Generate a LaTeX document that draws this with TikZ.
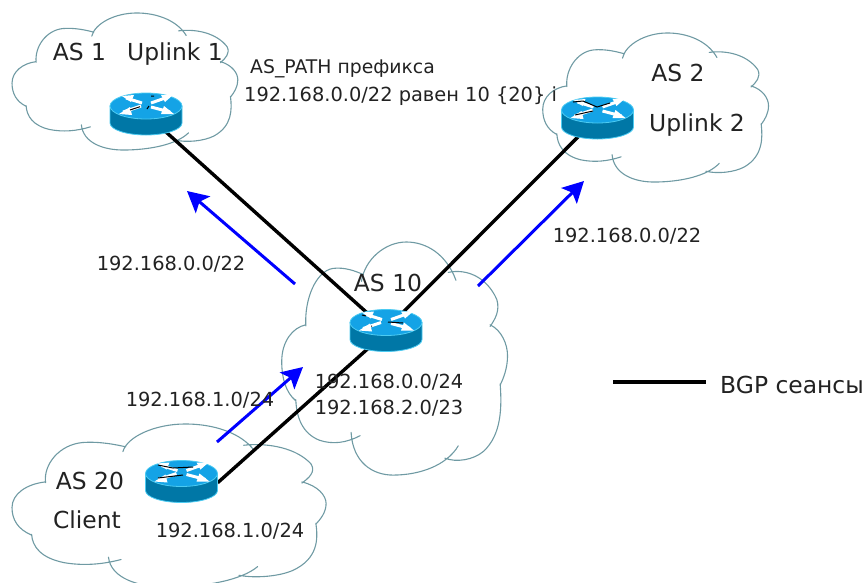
\documentclass[tikz,border=0pt]{standalone}
\usepackage{fontspec}
\setmainfont{DejaVu Sans}
\usetikzlibrary{shapes.geometric,arrows.meta}
\definecolor{cloudc}{HTML}{6F9AA3}
\definecolor{rtop}{HTML}{14A3E6}
\definecolor{rbody}{HTML}{0077A6}
\definecolor{redge}{HTML}{4CCBF2}
\definecolor{txt}{HTML}{222222}
\newcommand{\cloudat}[4]{%
  \path[cloudline,line cap=round,shift={(#1,#2)},xscale=#3,yscale=#4]
      (276,108) .. controls (285,70) and (345,38) .. (410,38) .. controls (470,38) and (530,60) .. (558,106)
      (535,92) .. controls (590,85) and (650,100) .. (680,140) .. controls (690,160) and (675,175) .. (660,188)
      (660,185) .. controls (695,195) and (712,220) .. (712,240) .. controls (712,262) and (700,280) .. (690,292)
      (690,290) .. controls (695,330) and (695,380) .. (640,410) .. controls (610,425) and (560,430) .. (525,422)
      (565,400) .. controls (530,435) and (450,452) .. (370,452) .. controls (310,452) and (250,430) .. (245,376)
      (272,382) .. controls (230,395) and (190,398) .. (150,390) .. controls (100,378) and (82,350) .. (80,318)
      (80,320) .. controls (50,305) and (38,280) .. (38,250) .. controls (38,215) and (70,190) .. (110,185)
      (110,187) .. controls (105,140) and (140,90) .. (190,85) .. controls (225,82) and (260,90) .. (282,96);}
\tikzset{
  cloudline/.style={draw=cloudc,line width=1.1pt},
  routeranchor/.style={ellipse,minimum width=72pt,minimum height=42pt,inner sep=0pt},
  bgpline/.style={black,line width=3.4pt},
  advert/.style={blue,line width=3pt,-{Stealth[length=21pt,width=22pt,inset=4.5pt]}},
  fleck/.style={black,line width=1pt},
  small/.style={font=\fontsize{19.4}{22}\selectfont,text=txt,inner sep=0pt},
  big/.style={font=\fontsize{23.4}{26}\selectfont,text=txt,inner sep=0pt},
  routershape/.pic={
    \path[fill=rbody,draw=redge,line width=0.8pt]
      (-36,-8) -- (-36,9) arc[start angle=180,end angle=360,x radius=36,y radius=-12] -- (36,-8) -- cycle;
    \path[fill=rtop,draw=redge,line width=0.8pt]
      (0,-8) ellipse[x radius=36,y radius=13];
    \draw[white,line width=3pt] (-23,-2) -- (-5,-8) (5,-11) -- (22,-17);
    \draw[white,line width=3pt] (-20,-16) -- (-4,-11) (5,-7) -- (24,-2);
    \fill[white] (-27,0) -- (-16,-7) -- (-14,1) -- cycle;
    \fill[white] (27,-19) -- (15,-19) -- (19,-12) -- cycle;
    \fill[white] (-24,-18) -- (-12,-19) -- (-15,-12) -- cycle;
    \fill[white] (28,0) -- (15,0) -- (18,-8) -- cycle;
  }
}
\begin{document}
\begin{tikzpicture}[x=1pt,y=-1pt]
\clip (0,0) rectangle (866,582);
% clouds
\cloudat{-0.7}{0.4}{0.335}{0.331}
\cloudat{530}{19.3}{0.335}{0.36}
\cloudat{269}{220.6}{0.335}{0.563}
\cloudat{-5.7}{409}{0.466}{0.394}
% routers: anchors
\node[routeranchor] (r1) at (146,114) {};
\node[routeranchor] (r2) at (597.5,118) {};
\node[routeranchor] (r10) at (386,330.5) {};
\node[routeranchor] (r20) at (181.5,481.5) {};
% BGP sessions
\draw[bgpline] (r1.-42) -- (r10.137);
\draw[bgpline] (r2.-136) -- (r10.47);
\draw[bgpline] (r10.225) -- (r20.-2);
% advertisements
\coordinate (a1s) at (295,284); \coordinate (a1e) at (187,191);
\coordinate (a2s) at (478,286); \coordinate (a2e) at (584,181);
\coordinate (a3s) at (217,442); \coordinate (a3e) at (303,367);
\draw[advert] (a1s) -- (a1e);
\draw[advert] (a2s) -- (a2e);
\draw[advert] (a3s) -- (a3e);
% router drawings
\pic at (r1) {routershape};
\pic at (r2) {routershape};
\pic at (r10) {routershape};
\pic at (r20) {routershape};
\draw[fleck] (130,110) -- (140,106.7) (147,109) -- (149,106) (151,96) -- (154,96);
\draw[fleck] (573,102) -- (583,101) -- (597,107) -- (610,103) (575,115) -- (593,111);
\draw[fleck] (388,322) -- (403,323) (362,315) -- (366,316) (371,326) -- (372,326);
\draw[fleck] (158,465) -- (173,468) -- (193,467) (158,478) -- (183,475);
% legend
\coordinate (l1) at (613,382); \coordinate (l2) at (706,382);
\draw[bgpline] (l1) -- (l2);
\node[big,anchor=west] (lg) at (720,385) {BGP сеансы};
% labels
\node[big] (t1) at (79.5,52) {AS 1};
\node[big] (t2) at (175,54) {Uplink 1};
\node[small,anchor=west,font=\fontsize{18.8}{22}\selectfont] (t3) at (250,69) {AS\_PATH префикса};
\node[small,anchor=west] (t4) at (244,96) {192.168.0.0/22 равен 10 \{20\} i};
\node[big] (t5) at (678,73) {AS 2};
\node[big] (t6) at (697,125) {Uplink 2};
\node[big] (t7) at (388,283) {AS 10};
\node[small] (t8) at (389,382) {192.168.0.0/24};
\node[small] (t9) at (389,408) {192.168.2.0/23};
\node[small] (t10) at (171,264) {192.168.0.0/22};
\node[small] (t11) at (627,236) {192.168.0.0/22};
\node[small] (t12) at (200,400) {192.168.1.0/24};
\node[big] (t13) at (90,481) {AS 20};
\node[big] (t14) at (87,520) {Client};
\node[small] (t15) at (230,531) {192.168.1.0/24};
\end{tikzpicture}
\end{document}
